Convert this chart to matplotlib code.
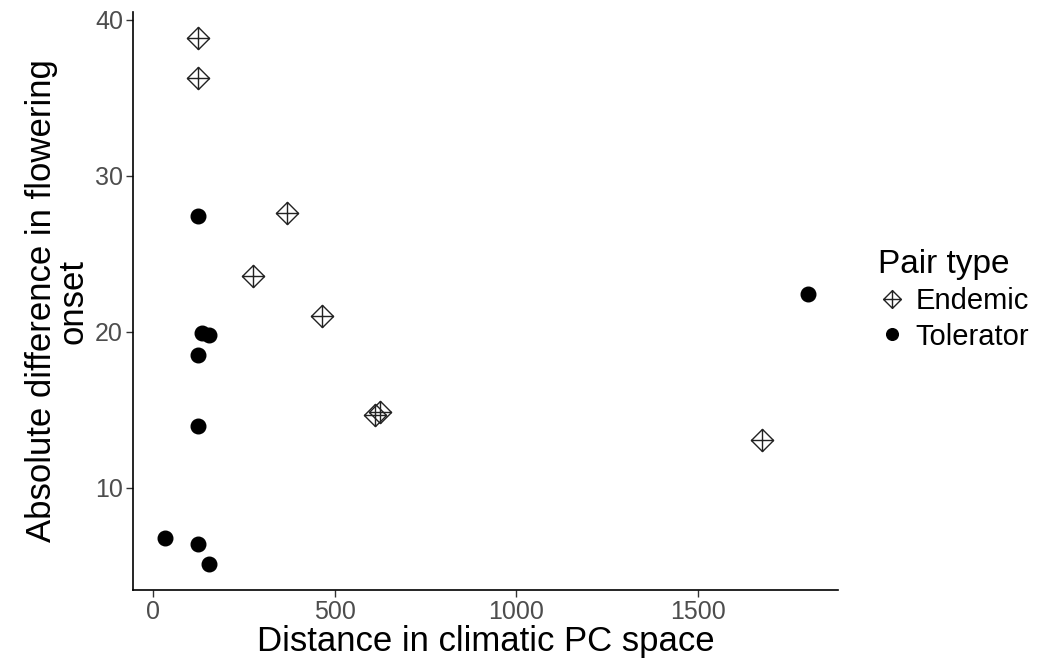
import matplotlib
matplotlib.use("Agg")
import matplotlib.pyplot as plt
from matplotlib.path import Path

plt.rcParams['font.family'] = ['Liberation Sans', 'DejaVu Sans']

# Endemic pairs
endemic_x = [124, 124, 369, 275, 465, 611, 625, 1676]
endemic_y = [38.85, 36.3, 27.6, 23.6, 21.0, 14.7, 14.9, 13.1]

# Tolerator pairs
tol_x = [124, 135, 154, 124, 124, 33, 124, 154, 1803]
tol_y = [27.4, 19.9, 19.8, 18.5, 14.0, 6.8, 6.4, 5.1, 22.4]

# diamond with a plus inside (R shape 9)
verts = [(0, 0.5), (0.5, 0), (0, -0.5), (-0.5, 0), (0, 0.5),
         (0, 0.5), (0, -0.5), (-0.5, 0), (0.5, 0)]
codes = [Path.MOVETO, Path.LINETO, Path.LINETO, Path.LINETO, Path.CLOSEPOLY,
         Path.MOVETO, Path.LINETO, Path.MOVETO, Path.LINETO]
diamond_plus = Path(verts, codes)

fig = plt.figure(figsize=(10.46, 6.67), dpi=100)
ax = fig.add_axes([0.127, 0.1154, 0.674, 0.8666])

ax.plot(endemic_x, endemic_y, linestyle='none', marker=diamond_plus,
        markersize=16, markerfacecolor='none', markeredgecolor='#222222',
        markeredgewidth=1.0, label='Endemic')
ax.plot(tol_x, tol_y, linestyle='none', marker='o', markersize=10.5,
        color='black', label='Tolerator')

ax.set_xlim(-55, 1885)
ax.set_ylim(3.46, 40.5)
ax.set_xticks([0, 500, 1000, 1500])
ax.set_yticks([10, 20, 30, 40])

for s in ['top', 'right']:
    ax.spines[s].set_visible(False)
for s in ['left', 'bottom']:
    ax.spines[s].set_linewidth(1.2)
ax.tick_params(axis='both', labelsize=18, colors='#333333',
               labelcolor='#4d4d4d', length=5, width=1.0, pad=2)

ax.set_xlabel('Distance in climatic PC space', fontsize=25, labelpad=1)
ax.set_ylabel('Absolute difference in flowering\nonset', fontsize=25,
              labelpad=4, linespacing=0.95)

leg = ax.legend(title='Pair type', loc='upper left',
                bbox_to_anchor=(1.04, 0.61), frameon=False, fontsize=21,
                title_fontsize=24, handletextpad=0.3, labelspacing=0.25,
                handlelength=1.0, borderaxespad=0, markerscale=0.8)
leg._legend_box.align = 'left'

fig.savefig('out.png', dpi=100)
